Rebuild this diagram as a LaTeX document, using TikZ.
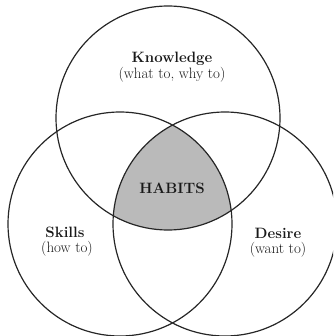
\documentclass[tikz,border=0pt]{standalone}
\begin{document}
\begin{tikzpicture}[x=1pt,y=-1pt,
  ring/.style={draw=black!85,line width=1.2pt},
  ttl/.style={font=\fontsize{15}{15}\selectfont\bfseries,text=black!90,inner sep=0pt},
  sub/.style={font=\fontsize{15}{15}\selectfont,text=black!90,inner sep=0pt}]
\useasboundingbox (0,0) rectangle (333,336);
\clip (0,0) rectangle (333,336);
\coordinate (ct) at (168,118);
\coordinate (cl) at (120,224);
\coordinate (cr) at (225,224);
\begin{scope}
  \clip (ct) circle[radius=112];
  \clip (cl) circle[radius=112];
  \fill[black!27] (cr) circle[radius=112];
\end{scope}
\draw[ring] (ct) circle[radius=112];
\draw[ring] (cl) circle[radius=112];
\draw[ring] (cr) circle[radius=112];
\node[ttl] (know) at (172,59) {Knowledge};
\node[sub] (knowsub) at (172,75) {(what to, why to)};
\node[ttl] (habits) at (172,188) {HABITS};
\node[ttl] (skills) at (65,232) {Skills};
\node[sub] (skillssub) at (67,249) {(how to)};
\node[ttl] (desire) at (278,233) {Desire};
\node[sub] (desiresub) at (278,250) {(want to)};
\end{tikzpicture}
\end{document}
